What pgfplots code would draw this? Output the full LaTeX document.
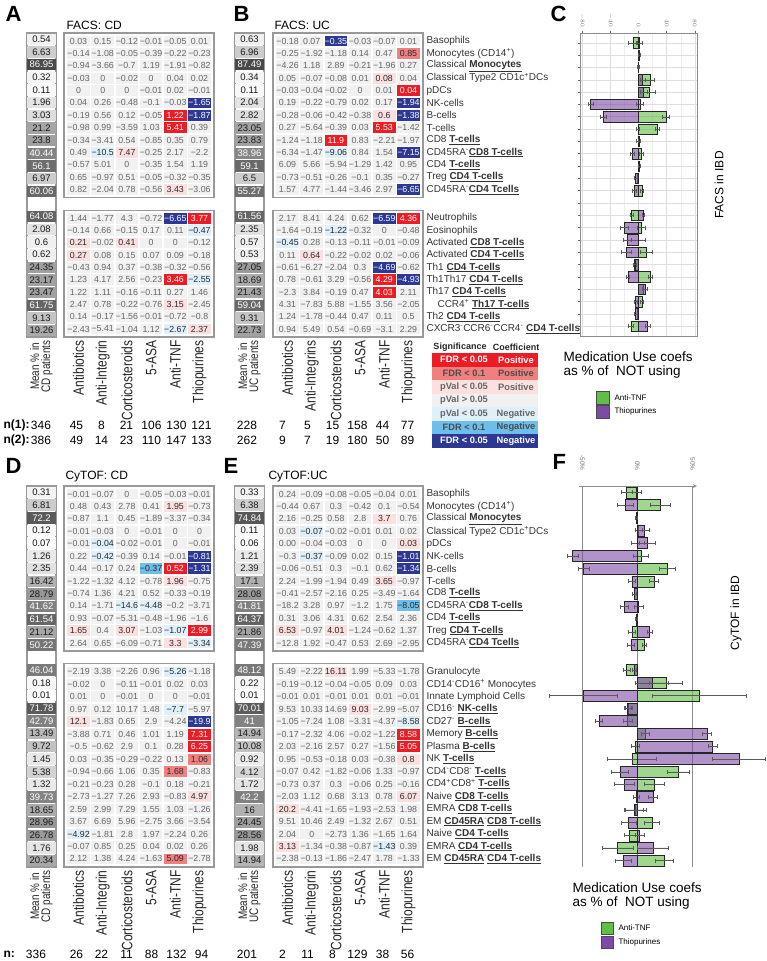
\documentclass[border=0pt]{standalone}
\usepackage{fontspec}
\setmainfont{Liberation Sans}
\newfontfamily\cond[FakeStretch=0.8]{Liberation Sans}
\usepackage{pgfplots}
\usepackage{pgfplotstable}
\pgfplotsset{compat=1.18}

\definecolor{s0}{RGB}{237,28,36}
\definecolor{s1}{RGB}{240,128,128}
\definecolor{s2}{RGB}{252,224,224}
\definecolor{s3}{RGB}{241,241,241}
\definecolor{s4}{RGB}{224,240,250}
\definecolor{s5}{RGB}{110,190,235}
\definecolor{s6}{RGB}{44,56,148}
\definecolor{t0}{RGB}{255,255,255}
\definecolor{t1}{RGB}{40,40,40}
\definecolor{t2}{RGB}{40,40,40}
\definecolor{t3}{RGB}{100,100,100}
\definecolor{t4}{RGB}{40,40,40}
\definecolor{t5}{RGB}{40,40,40}
\definecolor{t6}{RGB}{255,255,255}
\definecolor{gB}{RGB}{97,189,69}
\definecolor{pB}{RGB}{125,75,165}
\definecolor{txt}{RGB}{51,51,51}

\newcommand\numfont{\fontsize{8.8}{9}\selectfont}
\newcommand\meanvfont{\fontsize{9.5}{10}\selectfont}
\newcommand\meanfont{\cond\fontsize{12.4}{11}\selectfont}
\newcommand\collabfont{\cond\fontsize{15}{15}\selectfont}
\newcommand\rowfont{\fontsize{10}{10}\selectfont}
\newcommand\sigfont{\bfseries\fontsize{9.3}{9.3}\selectfont}
\newcommand\nfont{\fontsize{12}{12}\selectfont}
\newcommand\bu[1]{\underline{\textbf{#1}}}

\makeatletter
\def\sgn#1{\edef\sgn@t{#1}\expandafter\sgn@a\sgn@t\relax}
\def\sgn@a#1#2\relax{\ifx-#1−#2\else#1#2\fi}
\makeatother

\tikzset{nostroke/.style={draw=none, draw opacity=0, line width=0pt}}

\pgfplotsset{
 base/.style={scale only axis, anchor=north west, y dir=reverse, xtick=\empty, ytick=\empty,
   axis line style={draw=black!40, line width=1.3pt}, clip=false},
 heatax/.style={base, width=150pt, xmin=0.4, xmax=6.6, ymin=0.35},
 meanax/.style={base, width=29pt, xmin=0.5, xmax=1.5, ymin=0.5,
   colormap={gr}{color=(white) color=(black!72)}, point meta min=0, point meta max=9.5,
   xtick={1}, major tick length=0pt,
   xticklabel style={rotate=90, anchor=east, align=center, font=\meanfont, text=black!85}},
 collab/.style={xtick={1,...,6}, xticklabels={#1}, major tick length=0pt,
   xticklabel style={rotate=90, anchor=east, font=\collabfont, text=black!85}},
 rowlab/.style={ytick={1,...,#1}, yticklabel pos=right, major tick length=0pt,
   yticklabel style={anchor=west, font=\rowfont, text=txt}},
 cellplot/.style={scatter, only marks, mark=square*, mark size=5.4pt,
   mark options={xscale=2.1, nostroke}, point meta=explicit symbolic,
   scatter/classes={0={fill=s0,nostroke},1={fill=s1,nostroke},2={fill=s2,nostroke},
     3={fill=s3,nostroke},4={fill=s4,nostroke},5={fill=s5,nostroke},6={fill=s6,nostroke}}},
 labplot/.style={only marks, mark=*, mark size=0pt, mark options={nostroke,fill=none},
   point meta=explicit symbolic,
   nodes near coords={\pgfmathtruncatemacro\k{\cls}\textcolor{t\k}{\sgn{\pgfplotspointmeta}}},
   every node near coord/.append style={anchor=center, font=\numfont, inner sep=0pt}},
 meanplot/.style={scatter, only marks, mark=square*, mark size=5.75pt, mark options={xscale=2.52, nostroke},
   scatter/use mapped color={nostroke, fill=mapped color}},
 mlab/.style={only marks, mark=*, mark size=0pt, mark options={nostroke,fill=none},
   point meta=explicit symbolic, nodes near coords={\pgfplotspointmeta},
   every node near coord/.append style={anchor=center, font=\meanvfont, inner sep=0pt, text=#1}},
 gbar/.style={xbar, bar width=#1, bar shift=0pt, fill=gB, fill opacity=0.6, draw=black!85,
   line width=0.5pt, error bars/.cd, x dir=both, x explicit,
   error bar style={black!65, line width=0.5pt}},
 pbar/.style={xbar, bar width=#1, bar shift=0pt, fill=pB, fill opacity=0.6, draw=black!85,
   line width=0.5pt, error bars/.cd, x dir=both, x explicit,
   error bar style={black!65, line width=0.5pt}},
}

\newcommand\heatcells[1]{%
 \pgfplotsinvokeforeach{1,...,6}{%
  \addplot[cellplot] table[x expr=##1, y=r, meta=c##1]{#1};
  \addplot[labplot, visualization depends on={\thisrow{c##1}\as\cls}] table[x expr=##1, y=r, meta=v##1]{#1};
 }%
}
\newcommand\meancells[2]{%
 \addplot[meanplot, point meta={sqrt(\thisrow{m})}] table[x expr=1, y expr=\thisrow{r}+#2]{#1};
 \addplot[mlab=black!90, restrict expr to domain={\thisrow{m}}{0:35}] table[x expr=1, y expr=\thisrow{r}+#2, meta=m]{#1};
 \addplot[mlab=white, restrict expr to domain={\thisrow{m}}{35:1000}] table[x expr=1, y expr=\thisrow{r}+#2, meta=m]{#1};
}
\newcommand\sigrow[5]{%
 \fill[#2] (432,{-353-13.5*#1}) rectangle (538,{-366.5-13.5*#1});
 \node[font=\sigfont, text=#5] at (464,{-359.75-13.5*#1}) {#3};
 \node[font=\sigfont, text=#5] at (516,{-359.75-13.5*#1}) {#4};}

% ---------------- data ----------------
\pgfplotstableread{
r m v1 v2 v3 v4 v5 v6 c1 c2 c3 c4 c5 c6
1 0.54 0.03 0.15 -0.12 -0.01 -0.05 0.01 3 3 3 3 3 3
2 6.63 -0.14 -1.08 -0.05 -0.39 -0.22 -0.23 3 3 3 3 3 3
3 86.95 -0.94 -3.66 -0.7 1.19 -1.91 -0.82 3 3 3 3 3 3
4 0.32 -0.03 0 -0.02 0 0.04 0.02 3 3 3 3 3 3
5 0.11 0 0 0 -0.01 0.02 -0.01 3 3 3 3 3 3
6 1.96 0.04 0.26 -0.48 -0.1 -0.03 -1.65 3 3 3 3 3 6
7 3.03 -0.19 0.56 0.12 -0.05 1.22 -1.87 3 3 3 3 0 6
8 21.2 -0.98 0.99 -3.59 1.03 5.41 0.39 3 3 3 3 0 3
9 23.8 -0.34 -3.41 0.54 -0.85 0.35 0.79 3 3 3 3 3 3
10 40.44 0.49 -10.5 7.47 -0.25 2.17 -2.2 3 4 2 3 3 3
11 56.1 -0.57 5.01 0 -0.35 1.54 1.19 3 3 3 3 3 3
12 6.97 0.65 -0.97 0.51 -0.05 -0.32 -0.35 3 3 3 3 3 3
13 60.06 0.82 -2.04 0.78 -0.56 3.43 -3.06 3 3 3 3 2 3
}\At
\pgfplotstableread{
r m v1 v2 v3 v4 v5 v6 c1 c2 c3 c4 c5 c6
1 64.08 1.44 -1.77 4.3 -0.72 -6.65 3.77 3 3 3 3 6 0
2 2.08 -0.14 0.66 -0.15 0.17 0.11 -0.47 3 3 3 3 3 4
3 0.6 0.21 -0.02 0.41 0 0 -0.12 2 3 2 3 3 3
4 0.62 0.27 0.08 0.15 0.07 0.09 -0.18 2 3 3 3 3 3
5 24.35 -0.43 0.94 0.37 -0.38 -0.32 -0.56 3 3 3 3 3 3
6 23.17 1.23 4.17 2.56 -0.23 3.46 -2.55 3 3 3 3 0 4
7 23.47 1.22 1.11 -0.16 -0.11 0.27 1.46 3 3 3 3 3 3
8 61.75 2.47 0.78 -0.22 -0.76 3.15 -2.45 3 3 3 3 2 3
9 9.13 0.14 -0.17 -1.56 -0.01 -0.72 -0.8 3 3 3 3 3 3
10 19.26 -2.43 -5.41 -1.04 1.12 -2.67 2.37 3 3 3 3 4 2
}\Ab
\pgfplotstableread{
r m v1 v2 v3 v4 v5 v6 c1 c2 c3 c4 c5 c6
1 0.63 -0.18 0.07 -0.35 -0.03 -0.07 0.01 3 3 6 3 3 3
2 6.96 -0.25 -1.92 -1.18 0.14 0.47 0.85 3 3 3 3 3 1
3 87.49 -4.26 1.18 2.89 -0.21 -1.96 0.27 3 3 3 3 3 3
4 0.34 0.05 -0.07 -0.08 0.01 0.08 0.04 3 3 3 3 2 3
5 0.11 -0.03 -0.04 -0.02 0 0.01 0.04 3 3 3 3 3 0
6 2.04 0.19 -0.22 -0.79 0.02 0.17 -1.94 3 3 3 3 3 6
7 2.82 -0.28 -0.06 -0.42 -0.38 0.6 -1.38 3 3 3 3 2 6
8 23.05 0.27 -5.64 -0.39 0.03 5.53 -1.42 3 3 3 3 0 3
9 23.83 -1.24 -1.18 11.9 0.83 -2.21 -1.97 3 3 0 3 3 3
10 38.96 -6.34 -1.47 -9.06 0.84 1.54 -7.15 3 3 4 3 3 6
11 59.1 6.09 5.66 -5.94 -1.29 1.42 0.95 3 3 3 3 3 3
12 6.5 -0.73 -0.51 -0.26 -0.1 0.35 -0.27 3 3 3 3 3 3
13 55.27 1.57 4.77 -1.44 -3.46 2.97 -6.65 3 3 3 3 3 6
}\Bt
\pgfplotstableread{
r m v1 v2 v3 v4 v5 v6 c1 c2 c3 c4 c5 c6
1 61.56 2.17 8.41 4.24 0.62 -6.59 4.36 3 3 3 3 6 0
2 2.35 -1.64 -0.19 -1.22 -0.32 0 -0.48 3 3 4 3 3 3
3 0.57 -0.45 0.28 -0.13 -0.11 -0.01 -0.09 4 3 3 3 3 3
4 0.53 0.11 0.64 -0.22 -0.02 0.02 -0.06 3 2 3 3 3 3
5 27.05 -0.61 -6.27 -2.04 0.3 -4.69 -0.62 3 3 3 3 6 3
6 18.69 0.78 -0.61 3.29 -0.56 4.29 -4.93 3 3 3 3 0 6
7 21.43 -2.3 3.84 -0.19 0.47 4.03 2.11 3 3 3 3 0 3
8 59.04 4.31 -7.83 5.88 -1.55 3.56 -2.05 3 3 3 3 3 3
9 9.31 1.24 -1.78 -0.44 0.47 0.11 0.5 3 3 3 3 3 3
10 22.73 0.94 5.49 0.54 -0.69 -3.1 2.29 3 3 3 3 3 3
}\Bb
\pgfplotstableread{
r m v1 v2 v3 v4 v5 v6 c1 c2 c3 c4 c5 c6
1 0.31 -0.01 -0.07 0 -0.05 -0.03 -0.01 3 3 3 3 3 3
2 6.81 0.48 0.43 2.78 0.41 1.95 -0.73 3 3 3 3 2 3
3 72.2 -0.87 1.1 0.45 -1.89 -3.37 -0.34 3 3 3 3 3 3
4 0.12 -0.01 -0.03 0 -0.01 0 0 3 3 3 3 3 3
5 0.07 -0.01 -0.04 -0.02 -0.01 0 -0.01 3 4 3 3 3 3
6 1.26 0.22 -0.42 -0.39 0.14 -0.01 -0.81 3 4 3 3 3 6
7 2.35 0.44 -0.17 0.24 -0.37 0.52 -1.31 3 3 3 5 0 6
8 16.42 -1.22 -1.32 4.12 -0.78 1.96 -0.75 3 3 3 3 2 3
9 28.79 -0.74 1.36 4.21 0.52 -0.33 -0.19 3 3 3 3 3 3
10 41.62 0.14 -1.71 -14.6 -4.48 -0.2 -3.71 3 3 4 4 3 3
11 61.54 0.93 -0.07 -5.31 -0.48 -1.96 -1.6 3 3 3 3 3 3
12 21.12 1.65 0.4 3.07 -1.03 -1.07 2.99 2 3 2 3 4 0
13 50.22 2.64 0.65 -6.09 -0.71 3.3 -3.34 3 3 3 3 2 4
}\Dt
\pgfplotstableread{
r m v1 v2 v3 v4 v5 v6 c1 c2 c3 c4 c5 c6
1 46.04 -2.19 3.38 -2.26 0.96 -5.26 -1.18 3 3 3 3 4 3
2 0.18 -0.02 0 -0.11 -0.01 0.02 0.03 3 3 3 3 3 3
3 0.01 0.01 0 -0.01 0 0 -0.01 3 3 3 3 3 3
4 71.78 0.97 0.12 10.17 1.48 -7.7 -5.97 3 3 3 3 4 3
5 42.79 12.1 -1.83 0.65 2.9 -4.24 -19.9 2 3 3 3 3 6
6 13.49 -3.88 0.71 0.46 1.01 1.19 7.31 3 3 3 3 3 0
7 9.72 -0.5 -0.62 2.9 0.1 0.28 6.25 3 3 3 3 3 0
8 1.45 0.03 -0.35 -0.29 -0.22 0.13 1.06 3 3 3 3 3 1
9 5.38 -0.94 -0.66 1.06 0.35 1.68 -0.83 3 3 3 3 1 3
10 1.32 -0.21 -0.23 0.28 -0.1 0.18 -0.21 3 3 3 3 3 3
11 39.73 -2.73 -1.27 7.26 2.93 -0.83 4.97 3 3 3 3 3 2
12 18.65 2.59 2.99 7.29 1.55 1.03 -1.26 3 3 3 3 3 3
13 28.96 3.67 6.69 5.96 -2.75 3.66 -3.54 3 3 3 3 3 3
14 26.78 -4.92 -1.81 2.8 1.97 -2.24 0.26 4 3 3 3 3 3
15 1.76 -0.07 0.85 0.25 0.04 0.02 0.26 3 3 3 3 3 3
16 20.34 2.12 1.38 4.24 -1.63 5.09 -2.78 3 3 3 3 1 3
}\Db
\pgfplotstableread{
r m v1 v2 v3 v4 v5 v6 c1 c2 c3 c4 c5 c6
1 0.33 0.24 -0.09 -0.08 -0.05 -0.04 0.01 3 3 3 3 3 3
2 6.38 -0.44 0.67 0.3 -0.42 0.1 -0.54 3 3 3 3 3 3
3 74.84 2.16 -0.25 0.58 2.8 3.7 0.76 3 3 3 3 2 3
4 0.11 0.03 -0.07 -0.02 -0.01 0.01 0.02 3 4 3 3 3 3
5 0.06 0.00 -0.04 -0.03 0 0 0.03 3 3 3 3 3 2
6 1.21 -0.3 -0.37 -0.09 0.02 0.15 -1.01 3 4 3 3 3 6
7 2.39 -0.06 -0.51 0.3 -0.1 0.62 -1.34 3 3 3 3 3 6
8 17.1 2.24 -1.99 -1.94 0.49 3.65 -0.97 3 3 3 3 2 3
9 28.08 -0.41 -2.57 -2.16 0.25 -3.49 -1.64 3 3 3 3 3 3
10 41.81 -18.2 3.28 0.97 -1.2 1.75 -8.05 3 3 3 3 3 5
11 64.37 0.31 3.06 4.31 0.62 2.54 2.36 3 3 3 3 3 3
12 21.86 6.53 -0.97 4.01 -1.24 -0.62 1.37 2 3 2 3 3 3
13 47.39 -12.8 1.92 -0.47 0.53 2.69 -2.95 3 3 3 3 3 3
}\Et
\pgfplotstableread{
r m v1 v2 v3 v4 v5 v6 c1 c2 c3 c4 c5 c6
1 48.12 5.49 -2.22 16.11 1.99 -5.33 -1.78 3 3 2 3 3 3
2 0.22 -0.19 -0.12 -0.04 -0.05 0.09 0.03 3 3 3 3 3 3
3 0.01 -0.01 0.01 -0.01 0.01 0.01 -0.01 3 3 3 3 3 3
4 70.01 9.53 10.33 14.69 9.03 -2.99 -5.07 3 3 3 2 3 3
5 41 -1.05 -7.24 1.08 -3.31 -4.37 -8.58 3 3 3 3 3 4
6 14.94 -0.17 -2.32 4.06 -0.02 -1.22 8.58 3 3 3 3 3 0
7 10.08 2.03 -2.16 2.57 0.27 -1.56 5.05 3 3 3 3 3 0
8 0.92 0.95 -0.53 -0.18 0.03 -0.38 0.8 3 3 3 3 3 2
9 4.12 -0.07 0.42 -1.82 -0.06 1.33 -0.97 3 3 3 3 3 3
10 1.72 -0.73 0.37 0.3 -0.06 0.25 -0.16 3 3 3 3 3 3
11 42.2 -2.03 1.12 0.68 3.13 0.78 6.07 3 3 3 3 3 2
12 16 20.2 -4.41 -1.65 -1.93 -2.53 1.98 2 3 3 3 3 3
13 24.45 9.51 10.46 2.49 -1.32 2.67 0.51 3 3 3 3 3 3
14 28.56 2.04 0 -2.73 1.36 -1.65 1.64 3 3 3 3 3 3
15 1.98 3.13 -1.34 -0.38 -0.87 -1.43 0.39 2 3 3 3 4 3
16 14.94 -2.38 -0.13 -1.86 -2.47 1.78 -1.33 3 3 3 3 3 3
}\Eb
\pgfplotstableread{
r tnf tnfe thio thioe
1 -8 6 1 4
2 1 2 1 2
3 -1 1 0 1
4 16 6 6 4
5 15 8 7 5
6 2 5 -68 4
7 39 5 -50 4
8 27 3 -1 2
9 -1 2 1 2
10 4 3 -9 3
11 1 2 1 2
12 -2 2 -4 2
13 5 2 -6 3
15 -10 2 7 1.5
16 4 6 -20 6
17 -1 10 -16 6
18 11 8 -18 7
19 -6 1 -5 2
20 17 3 -15 2
21 7 2 9 3
22 5 2 -4 2
23 -2 2 -4 2
24 -11 3 13 3
}\Cd
\pgfplotstableread{
r tnf tnfe thio thioe
1 -10 5 -1 4
2 21 9 -11 7
3 -1 1 -1 1
4 1 3 6 5
5 0 6 9 7
6 3 7 -59 5
7 27 7 -49 5
8 15 4 -5 3
9 -3 1.5 -3 1.5
10 1 4 -12 4
11 -1 1 -1 1
12 -5 3 11 2
13 6 2 -6 3
15 -10 3 -3 2
16 26 15 13 15
17 56 43 -49 31
18 -8 3 -9 3
19 -9 4 -35 3
20 7 4 63 4
21 -2 4 68 4
22 -5 22 92 24
23 37 10 -16 8
24 15 9 -12 9
25 -1 3 14 4
26 -2 10 -3 8
27 13 7 -8 7
28 -7 5 2 4
29 -18 14 14 14
30 24 8 -13 7
}\Fd

\begin{document}
\begin{tikzpicture}[x=1pt,y=1pt]
\path[use as bounding box] (0,0) rectangle (766,-961);

% ---------- panel letters and titles ----------
\foreach \l/\x/\y in {A/2/-14, B/230/-14, C/547/-14, D/2/-466, E/220/-466, F/549/-462}
  \node[anchor=west, font=\bfseries\fontsize{22}{22}\selectfont] at (\x,\y) {\l};
\node[anchor=west, font=\fontsize{12}{12}\selectfont] at (63,-25) {FACS: CD};
\node[anchor=west, font=\fontsize{12}{12}\selectfont] at (271,-25) {FACS: UC};
\node[anchor=west, font=\fontsize{12}{12}\selectfont] at (62,-477) {CyTOF: CD};
\node[anchor=west, font=\fontsize{12}{12}\selectfont] at (265,-477) {CyTOF:UC};

% ---------- Panel A ----------
\begin{axis}[meanax, at={(27pt,-33pt)}, height=304pt, ymax=24.5, xticklabels={{Mean \% in\\CD patients}}]
\meancells{\At}{0}
\meancells{\Ab}{14}
\end{axis}
\begin{axis}[heatax, at={(64pt,-33pt)}, height=164.7pt, ymax=13.65]
\heatcells{\At}
\end{axis}
\begin{axis}[heatax, at={(64pt,-210.3pt)}, height=126.7pt, ymax=10.65,
  collab={Antibiotics,Anti-Integrin,Corticosteroids,5-ASA,Anti-TNF,Thiopurines}]
\heatcells{\Ab}
\end{axis}

% ---------- Panel B ----------
\begin{axis}[meanax, at={(235pt,-33pt)}, height=304pt, ymax=24.5, xticklabels={{Mean \% in\\UC patients}}]
\meancells{\Bt}{0}
\meancells{\Bb}{14}
\end{axis}
\begin{axis}[heatax, at={(273pt,-33pt)}, height=164.7pt, ymax=13.65, rowlab=13,
  yticklabels={{Basophils},{Monocytes (CD14\textsuperscript{+})},{Classical \bu{Monocytes}},{Classical Type2 CD1c\textsuperscript{+}DCs},{pDCs},{NK-cells},{B-cells},{T-cells},{CD8 \bu{T-cells}},{CD45RA\textsuperscript{-}\bu{CD8 T-cells}},{CD4 \bu{T-cells}},{Treg \bu{CD4 T-cells}},{CD45RA\textsuperscript{-}\bu{CD4 Tcells}}}]
\heatcells{\Bt}
\end{axis}
\begin{axis}[heatax, at={(273pt,-210.3pt)}, height=126.7pt, ymax=10.65, rowlab=10,
  yticklabels={{Neutrophils},{Eosinophils},{Activated \bu{CD8 T-cells}},{Activated \bu{CD4 T-cells}},{Th1 \bu{CD4 T-cells}},{Th1Th17 \bu{CD4 T-cells}},{Th17 \bu{CD4 T-cells}},{\hspace{11pt}CCR4\textsuperscript{+} \bu{Th17 T-cells}},{Th2 \bu{CD4 T-cells}},{CXCR3\textsuperscript{-}CCR6\textsuperscript{-}CCR4\textsuperscript{-} \bu{CD4 T-cells}}},
  collab={Antibiotics,Anti-Integrins,Corticosteroids,5-ASA,Anti-TNF,Thiopurines}]
\heatcells{\Bb}
\end{axis}

% ---------- n rows (FACS) ----------
\node[anchor=west, font=\bfseries\nfont] at (0,-425) {n(1):};
\node[anchor=west, font=\bfseries\nfont] at (0,-440) {n(2):};
\foreach \v [count=\i from 0] in {346,45,8,21,106,130,121}
  \node[font=\nfont] at ({\i==0 ? 41 : 64+25*(\i-0.5)},-425) {\v};
\foreach \v [count=\i from 0] in {386,49,14,23,110,147,133}
  \node[font=\nfont] at ({\i==0 ? 41 : 64+25*(\i-0.5)},-440) {\v};
\foreach \v [count=\i from 0] in {228,7,5,15,158,44,77}
  \node[font=\nfont] at ({\i==0 ? 247 : 270+25*(\i-0.5)},-425) {\v};
\foreach \v [count=\i from 0] in {262,9,7,19,180,50,89}
  \node[font=\nfont] at ({\i==0 ? 247 : 270+25*(\i-0.5)},-440) {\v};

% ---------- significance legend ----------
\node[font=\bfseries\fontsize{9}{9}\selectfont, text=black!85] at (460,-347) {Significance};
\node[font=\bfseries\fontsize{9}{9}\selectfont, text=black!85] at (516,-347) {Coefficient};
\sigrow{0}{s0}{FDR < 0.05}{Positive}{white}
\sigrow{1}{s1}{FDR < 0.1}{Positive}{black!70}
\sigrow{2}{s2}{pVal < 0.05}{Positive}{black!60}
\sigrow{3}{s3}{pVal > 0.05}{}{black!60}
\sigrow{4}{s4}{pVal < 0.05}{Negative}{black!60}
\sigrow{5}{s5}{FDR < 0.1}{Negative}{black!70}
\sigrow{6}{s6}{FDR < 0.05}{Negative}{white}

% ---------- Panel C ----------
\begin{axis}[at={(580pt,-33pt)}, anchor=north west, scale only axis, width=117pt, height=303pt,
  xmin=-83, xmax=83, ymin=0.2, ymax=24.8, y dir=reverse,
  axis line style={draw=black!45, line width=0.8pt},
  xtick={-80,-40,0,40,80}, minor xtick={-60,-20,20,60}, ytick={1,...,24}, yticklabels={},
  xtick pos=right, xticklabel pos=right, ytick pos=left, tick align=outside,
  major tick length=2.5pt, minor tick length=0pt, tick style={black!60, line width=0.6pt},
  xmajorgrids, xminorgrids, ymajorgrids,
  major grid style={black!13, line width=0.6pt}, minor grid style={black!7, line width=0.5pt},
  xticklabel style={rotate=-90, anchor=east, font=\fontsize{6.5}{6.5}\selectfont, text=black!55},
  clip=false]
\addplot[gbar=10.5pt] table[x=tnf, y=r, x error=tnfe]{\Cd};
\addplot[pbar=10.5pt] table[x=thio, y=r, x error=thioe]{\Cd};
\end{axis}
\node[rotate=90, font=\fontsize{12}{12}\selectfont] at (719,-185) {FACS in IBD};
\node[anchor=north west, align=left, font=\fontsize{13.5}{14}\selectfont] at (560,-348) {Medication Use coefs\\as \% of\ \ NOT using};
\draw[fill=gB, draw=black!70] (596,-391) rectangle (609,-404);
\draw[fill=pB, draw=black!70] (596,-405) rectangle (609,-418);
\node[anchor=west, font=\fontsize{8}{8}\selectfont] at (611,-397.5) {Anti-TNF};
\node[anchor=west, font=\fontsize{8}{8}\selectfont] at (611,-411.5) {Thiopurines};

% ---------- Panel D ----------
\begin{axis}[meanax, at={(27pt,-486pt)}, height=381pt, ymax=30.5, xticklabels={{Mean \% in\\CD patients}}]
\meancells{\Dt}{0}
\meancells{\Db}{14}
\end{axis}
\begin{axis}[heatax, at={(64pt,-486pt)}, height=165.1pt, ymax=13.65]
\heatcells{\Dt}
\end{axis}
\begin{axis}[heatax, at={(64pt,-663.8pt)}, height=203.2pt, ymax=16.65,
  collab={Antibiotics,Anti-Integrin,Corticosteroids,5-ASA,Anti-TNF,Thiopurines}]
\heatcells{\Db}
\end{axis}

% ---------- Panel E ----------
\begin{axis}[meanax, at={(235pt,-486pt)}, height=381pt, ymax=30.5, xticklabels={{Mean \% in\\UC patients}}]
\meancells{\Et}{0}
\meancells{\Eb}{14}
\end{axis}
\begin{axis}[heatax, at={(273pt,-486pt)}, height=165.1pt, ymax=13.65, rowlab=13,
  yticklabels={{Basophils},{Monocytes (CD14\textsuperscript{+})},{Classical \bu{Monocytes}},{Classical Type2 CD1c\textsuperscript{+}DCs},{pDCs},{NK-cells},{B-cells},{T-cells},{CD8 \bu{T-cells}},{CD45RA\textsuperscript{-}\bu{CD8 T-cells}},{CD4 \bu{T-cells}},{Treg \bu{CD4 T-cells}},{CD45RA\textsuperscript{-}\bu{CD4 Tcells}}}]
\heatcells{\Et}
\end{axis}
\begin{axis}[heatax, at={(273pt,-663.8pt)}, height=203.2pt, ymax=16.65, rowlab=16,
  yticklabels={{Granulocyte},{CD14\textsuperscript{-}CD16\textsuperscript{+} Monocytes},{Innate Lymphoid Cells},{CD16\textsuperscript{-} \bu{NK-cells}},{CD27\textsuperscript{-} \bu{B-cells}},{Memory \bu{B-cells}},{Plasma \bu{B-cells}},{NK \bu{T-cells}},{CD4\textsuperscript{-}CD8\textsuperscript{-} \bu{T-cells}},{CD4\textsuperscript{+}CD8\textsuperscript{+} \bu{T-cells}},{Naive \bu{CD8 T-cells}},{EMRA \bu{CD8 T-cells}},{EM \bu{CD45RA}\textsuperscript{-}\bu{CD8 T-cells}},{Naive \bu{CD4 T-cells}},{EMRA \bu{CD4 T-cells}},{EM \bu{CD45RA}\textsuperscript{-}\bu{CD4 T-cells}}},
  collab={Antibiotics,Anti-Integrin,Corticosteroids,5-ASA,Anti-TNF,Thiopurines}]
\heatcells{\Eb}
\end{axis}

% ---------- n row (CyTOF) ----------
\node[anchor=west, font=\bfseries\nfont] at (0,-954) {n:};
\foreach \v [count=\i from 0] in {336,26,22,11,88,132,94}
  \node[font=\nfont] at ({\i==0 ? 36 : 64+25*(\i-0.5)},-954) {\v};
\foreach \v [count=\i from 0] in {201,2,11,8,129,38,56}
  \node[font=\nfont] at ({\i==0 ? 247 : 270+25*(\i-0.5)},-954) {\v};

% ---------- Panel F ----------
\begin{axis}[at={(579pt,-486pt)}, anchor=north west, scale only axis, width=118pt, height=381pt,
  xmin=-53, xmax=54, ymin=0.5, ymax=30.5, y dir=reverse,
  axis x line=top, axis y line=none,
  axis line style={draw=black!45, line width=0.8pt},
  xtick={-50,0,50}, xticklabels={{-50\%},{0\%},{50\%}}, major tick length=0pt, ytick=\empty,
  xmajorgrids, major grid style={black!45, line width=0.8pt},
  xticklabel style={rotate=-90, anchor=east, font=\fontsize{6.5}{6.5}\selectfont, text=black!55},
  xticklabel shift=12pt, clip=false]
\addplot[gbar=11pt] table[x=tnf, y=r, x error=tnfe]{\Fd};
\addplot[pbar=11pt] table[x=thio, y=r, x error=thioe]{\Fd};
\end{axis}
\node[rotate=90, font=\fontsize{12}{12}\selectfont] at (736,-613) {CyTOF in IBD};
\node[anchor=north west, align=left, font=\fontsize{13.5}{14.5}\selectfont] at (569,-879) {Medication Use coefs\\as \% of\ \ NOT using};
\draw[fill=gB, draw=black!70] (601,-922) rectangle (613,-934);
\draw[fill=pB, draw=black!70] (601,-936) rectangle (613,-948);
\node[anchor=west, font=\fontsize{8}{8}\selectfont] at (615,-928) {Anti-TNF};
\node[anchor=west, font=\fontsize{8}{8}\selectfont] at (615,-942) {Thiopurines};
\end{tikzpicture}
\end{document}
